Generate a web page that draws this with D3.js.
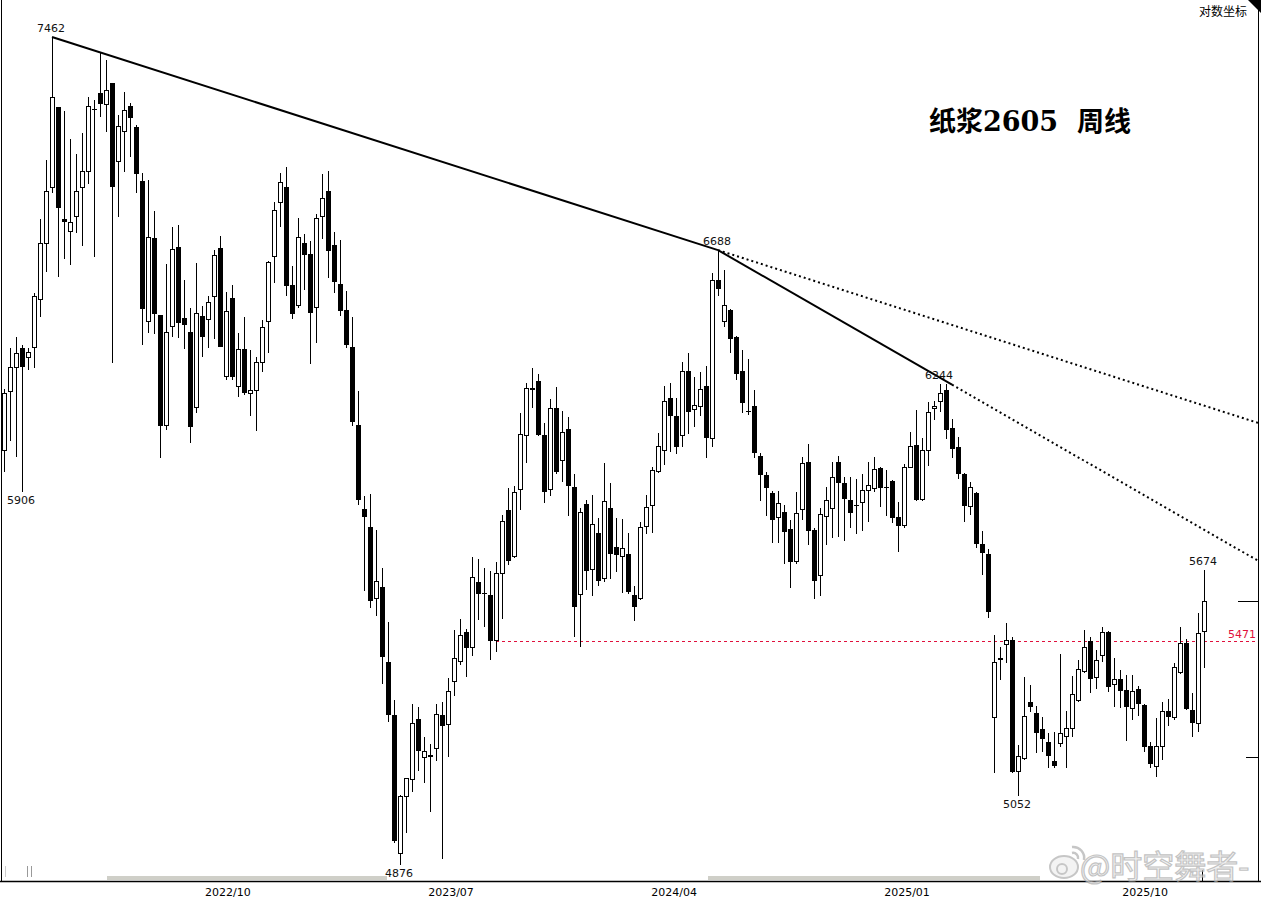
<!DOCTYPE html>
<html lang="zh">

<head>
    <meta charset="utf-8">
    <title>纸浆2605 周线</title>
    <script type="text/javascript" src="https://cdn.jsdelivr.net/npm/d3@7"></script>

    <style type="text/css">
        body {
            margin: 0;
            background-color: #fff;
        }
        text {
            font-family: "DejaVu Sans", sans-serif;
        }
    </style>
</head>

<body>
    <script type="text/javascript">

    var w = 1261
    var h = 899

    // weekly OHLC
    var opens = [6035,6218,6295,6360,6330,6360,6522,6709,6908,7198,
        6796,6751,6803,6908,6962,7191,7250,7209,7288,7001,
        7107,7202,7125,6930,6446,6730,6469,6110,6432,6698,
        6459,6412,6167,6466,6455,6529,6695,6266,6526,6234,
        6356,6214,6224,6314,6446,6667,6855,6908,6569,6499,
        6712,6674,6492,6806,6894,6705,6573,6486,6363,6113,
        5855,5801,5593,5625,5413,5267,4904,5050,5094,5256,
        5152,5155,5176,5267,5240,5357,5413,5496,5452,5640,
        5608,5602,5471,5663,5852,5713,5915,6079,6227,6253,
        6082,5915,6167,6004,6101,5921,5602,5870,5677,5783,
        5648,5858,5742,5713,5721,5602,5593,5801,5864,5970,
        6035,6198,6141,6079,6285,6161,6173,6237,6072,6586,
        6446,6486,6396,6285,6157,6173,6016,5958,5903,5828,
        5846,5795,5698,5852,5998,5792,5657,5831,5855,5998,
        5933,5882,5868,5873,5912,5918,5979,5920,5939,5831,
        5804,5982,6050,5882,6032,6164,6186,6224,6104,6044,
        5961,5861,5903,5751,5721,5259,5418,5460,5474,5115,
        5149,5302,5272,5229,5194,5144,5189,5208,5229,5307,
        5387,5471,5368,5429,5496,5351,5365,5335,5283,5337,
        5294,5184,5128,5181,5277,5261,5382,5465,5280,5245,
        5499]

    var highs = [6227,6360,6396,6369,6360,6542,6796,7005,7462,7198,
        7184,7081,7027,7103,7235,7224,7404,7374,7288,7169,
        7254,7213,7132,6958,6933,6824,6469,6640,6768,6775,
        6586,6492,6644,6499,6532,6688,6737,6546,6569,6409,
        6462,6353,6330,6452,6650,6855,6958,6980,6633,6799,
        6744,6719,6813,6955,6965,6751,6723,6549,6462,6221,
        5894,5900,5792,5680,5524,5307,5055,5097,5296,5288,
        5207,5189,5296,5302,5368,5502,5533,5505,5713,5707,
        5680,5672,5698,5837,5918,5924,6151,6246,6295,6275,
        6119,6195,6234,6157,6138,5961,5858,5882,5897,5828,
        5995,5933,5828,5825,5783,5628,5816,5897,5982,6088,
        6237,6246,6198,6314,6343,6266,6282,6301,6610,6688,
        6620,6490,6400,6353,6324,6224,6026,5967,5909,5909,
        5867,5822,5906,6013,6054,5798,5858,5921,5998,6016,
        5952,5952,5946,5961,5998,6013,5982,5973,5942,5876,
        5992,6091,6161,6072,6186,6189,6244,6243,6132,6076,
        5964,5937,5906,5789,5736,5488,5454,5521,5482,5186,
        5370,5348,5291,5261,5218,5221,5435,5277,5373,5418,
        5502,5482,5446,5510,5499,5424,5390,5376,5376,5346,
        5296,5194,5259,5302,5310,5410,5510,5477,5326,5550,
        5674]

    var lows = [5967,6063,6013,5906,6288,6295,6462,6613,6887,6596,
        6657,6637,6747,6702,6919,6664,7161,7107,6311,6803,
        6962,7016,6887,6369,6409,6405,6010,6097,6396,6393,
        6356,6057,6151,6330,6360,6389,6363,6256,6256,6202,
        6208,6141,6094,6282,6343,6576,6768,6532,6455,6492,
        6553,6308,6376,6726,6593,6542,6466,6360,6110,5867,
        5613,5564,5541,5351,5248,4932,4876,4957,5063,5118,
        5086,5011,5144,4891,5155,5318,5404,5370,5429,5530,
        5510,5418,5440,5533,5689,5710,5852,5995,6167,6079,
        5873,5894,5960,5937,5834,5482,5454,5616,5599,5628,
        5640,5648,5669,5608,5605,5527,5587,5780,5783,5964,
        5989,6029,6023,6044,6085,6107,6141,6010,6044,6532,
        6430,6343,6256,6151,6145,6010,5879,5834,5754,5754,
        5692,5622,5692,5822,5748,5590,5599,5748,5769,5771,
        5760,5798,5780,5789,5816,5906,5861,5834,5813,5727,
        5798,5978,5879,5878,5986,6129,6154,6069,6010,5946,
        5816,5837,5739,5660,5535,5112,5362,5410,5112,5052,
        5147,5275,5165,5168,5126,5126,5181,5126,5208,5302,
        5382,5326,5337,5413,5329,5288,5286,5197,5254,5264,
        5168,5126,5102,5147,5237,5254,5380,5280,5208,5221,
        5396]

    var closes = [6214,6295,6343,6298,6346,6529,6709,6894,7232,6834,
        6785,6782,6894,6962,7202,7187,7209,7258,6908,7125,
        7184,7158,6955,6489,6730,6472,6110,6412,6691,6442,
        6435,6107,6472,6396,6509,6671,6363,6479,6266,6356,
        6214,6224,6314,6428,6647,6827,6926,6566,6472,6733,
        6671,6476,6799,6869,6685,6579,6482,6369,6122,5882,
        5831,5584,5640,5427,5267,4937,5050,5097,5243,5170,
        5170,5158,5267,5237,5332,5421,5485,5452,5651,5604,
        5605,5471,5663,5816,5701,5906,6082,6230,6230,6082,
        5906,6164,5967,6091,5924,5567,5843,5672,5807,5643,
        5876,5721,5718,5736,5610,5567,5798,5858,5973,6047,
        6186,6141,6044,6282,6154,6176,6227,6072,6583,6556,
        6499,6389,6275,6182,6154,6026,5958,5918,5822,5870,
        5786,5698,5840,5992,5789,5643,5837,5879,5949,5933,
        5885,5843,5866,5912,5927,5976,5918,5917,5828,5804,
        5982,6047,5882,6032,6154,6173,6214,6098,6038,5961,
        5864,5921,5751,5724,5553,5410,5421,5471,5115,5155,
        5264,5288,5219,5202,5157,5131,5218,5229,5323,5390,
        5452,5365,5415,5496,5343,5365,5332,5288,5332,5296,
        5181,5136,5181,5275,5261,5398,5463,5283,5245,5491,
        5584]

    // x axis labels (candle index where the month starts)
    var tickIndex = [37.3, 74.5, 111.7, 150.5, 190.2]
    var tickLabels = ["2022/10", "2023/07", "2024/04", "2025/01", "2025/10"]

    // highs / lows that carry a number
    var peakIndex = [8, 119, 156, 200, 3, 66, 169]
    var peakSide = ["high", "high", "high", "high", "low", "low", "low"]

    // trend lines: two anchor points [index, price], dotted beyond the second one
    var trend1 = [[8, 7462], [119, 6688]]
    var trend2 = [[119, 6688], [158, 6241]]
    var lastIndex = 209

    var support = 5471
    var supportStart = 82
    var priceMarks = [5584, 5155]

    var candles = opens.map(function(o, i){
        return {i: i, o: o, h: highs[i], l: lows[i], c: closes[i]};
    });

    var x = d3.scaleLinear()
        .domain([0, opens.length - 1])
        .range([4, 1204]);

    var y = d3.scaleLog()
        .domain([4876, 7462])
        .range([865, 37]);

    var svg = d3.select("body")
        .append("svg")
        .attr("width", w)
        .attr("height", h);

    //Frame
    svg.append("line")
        .attr("x1", 1.5).attr("x2", 1.5)
        .attr("y1", 0).attr("y2", 881)
        .attr("stroke", "#000");

    svg.append("line")
        .attr("x1", 1258.5).attr("x2", 1258.5)
        .attr("y1", 10).attr("y2", 881)
        .attr("stroke", "#000");

    svg.append("line")
        .attr("x1", 0).attr("x2", w)
        .attr("y1", 881.5).attr("y2", 881.5)
        .attr("stroke", "#000")
        .attr("stroke-width", 1.5);

    svg.append("path")
        .attr("d", "M1248,0 L1261,0 L1261,13 Z")
        .attr("fill", "#000");

    svg.append("text")
        .attr("x", 1247)
        .attr("y", 16)
        .attr("text-anchor", "end")
        .style("font-family", "'Noto Sans CJK SC', sans-serif")
        .style("font-size", "12px")
        .text("对数坐标");

    //grey scroll bars near the axis
    svg.selectAll("rect.scroll")
        .data([[107, 387], [708, 1040]])
        .enter()
        .append("rect")
        .attr("class", "scroll")
        .attr("x", function(d){ return d[0]; })
        .attr("y", 876)
        .attr("width", function(d){ return d[1] - d[0]; })
        .attr("height", 4)
        .attr("fill", "#cfcfc8");

    //little grey marks bottom left
    svg.selectAll("line.gmark")
        .data([5, 27, 31])
        .enter()
        .append("line")
        .attr("class", "gmark")
        .attr("x1", function(d){ return d + 0.5; })
        .attr("x2", function(d){ return d + 0.5; })
        .attr("y1", 866)
        .attr("y2", 877)
        .attr("stroke", function(d, i){ return i == 0 ? "#ccc" : "#999"; });

    //tick under last candle
    svg.append("line")
        .attr("x1", x(opens.length - 1) - 1.5)
        .attr("x2", x(opens.length - 1) - 1.5)
        .attr("y1", 870)
        .attr("y2", 881)
        .attr("stroke", "#000");

    //x axis labels
    svg.selectAll("text.tick")
        .data(tickIndex)
        .enter()
        .append("text")
        .attr("class", "tick")
        .attr("x", function(d){ return x(d); })
        .attr("y", 896)
        .attr("text-anchor", "middle")
        .style("font-size", "11px")
        .text(function(d, i){ return tickLabels[i]; });

    //Support line
    svg.append("line")
        .attr("x1", x(supportStart))
        .attr("x2", x(lastIndex))
        .attr("y1", Math.round(y(support)) + 0.5)
        .attr("y2", Math.round(y(support)) + 0.5)
        .attr("stroke", "#e0103c")
        .attr("stroke-dasharray", "3,3");

    svg.append("text")
        .attr("x", 1256)
        .attr("y", y(support) - 3)
        .attr("text-anchor", "end")
        .attr("fill", "#e0103c")
        .style("font-size", "11px")
        .text(support);

    //current price marks at the right edge
    svg.selectAll("line.mark")
        .data(priceMarks)
        .enter()
        .append("line")
        .attr("class", "mark")
        .attr("x1", function(d, i){ return i == 0 ? 1238 : 1246; })
        .attr("x2", 1258)
        .attr("y1", function(d){ return Math.round(y(d)) + 0.5; })
        .attr("y2", function(d){ return Math.round(y(d)) + 0.5; })
        .attr("stroke", "#000");

    //Wicks
    svg.selectAll("line.wick")
        .data(candles)
        .enter()
        .append("line")
        .attr("class", "wick")
        .attr("x1", function(d){ return x(d.i) + 0.5; })
        .attr("x2", function(d){ return x(d.i) + 0.5; })
        .attr("y1", function(d){ return y(d.h); })
        .attr("y2", function(d){ return y(d.l); })
        .attr("stroke", "#000")
        .attr("shape-rendering", "crispEdges");

    //Bodies
    svg.selectAll("rect.body")
        .data(candles)
        .enter()
        .append("rect")
        .attr("class", "body")
        .attr("x", function(d){ return d.c >= d.o ? x(d.i) - 1.5 : x(d.i) - 2; })
        .attr("y", function(d){ return y(Math.max(d.o, d.c)); })
        .attr("width", function(d){ return d.c >= d.o ? 4 : 5; })
        .attr("height", function(d){
            return Math.max(1, y(Math.min(d.o, d.c)) - y(Math.max(d.o, d.c)));
        })
        .attr("fill", function(d){ return d.c >= d.o ? "#fff" : "#000"; })
        .attr("stroke", "#000")
        .attr("stroke-width", function(d){ return d.c >= d.o ? 1 : 0; })
        .attr("shape-rendering", "crispEdges");

    //Trend lines
    var drawTrend = function(t){
        var x1 = x(t[0][0]), y1 = y(t[0][1]);
        var x2 = x(t[1][0]), y2 = y(t[1][1]);
        var xe = x(lastIndex);
        var ye = y1 + (xe - x1) * (y2 - y1) / (x2 - x1);

        svg.append("line")
            .attr("x1", x1).attr("y1", y1)
            .attr("x2", x2).attr("y2", y2)
            .attr("stroke", "#000")
            .attr("stroke-width", 2);

        svg.append("line")
            .attr("x1", x2).attr("y1", y2)
            .attr("x2", xe).attr("y2", ye)
            .attr("stroke", "#000")
            .attr("stroke-width", 2)
            .attr("stroke-dasharray", "2,3");
    }
    drawTrend(trend1);
    drawTrend(trend2);

    //High and low labels
    svg.selectAll("text.peak")
        .data(peakIndex)
        .enter()
        .append("text")
        .attr("class", "peak")
        .attr("x", function(d){ return x(d) - 1; })
        .attr("y", function(d, i){
            return peakSide[i] == "high" ? y(highs[d]) - 5 : y(lows[d]) + 12;
        })
        .attr("text-anchor", "middle")
        .attr("fill", "#111")
        .style("font-size", "11px")
        .text(function(d, i){ return peakSide[i] == "high" ? highs[d] : lows[d]; });

    //Title
    svg.append("text")
        .attr("x", 929)
        .attr("y", 131)
        .style("font-family", "'DejaVu Serif', 'Noto Sans CJK SC', serif")
        .style("font-size", "27px")
        .style("font-weight", "bold")
        .style("white-space", "pre")
        .text("纸浆2605  周线");

    //Watermark (weibo style)
    var wm = svg.append("g")
        .attr("opacity", 0.75);

    wm.append("ellipse")
        .attr("cx", 1064).attr("cy", 867)
        .attr("rx", 14).attr("ry", 11)
        .attr("fill", "#f0f0f0")
        .attr("stroke", "#b4b4b4")
        .attr("stroke-width", 2);

    wm.append("circle")
        .attr("cx", 1062).attr("cy", 869)
        .attr("r", 5)
        .attr("fill", "none")
        .attr("stroke", "#b4b4b4")
        .attr("stroke-width", 2);

    wm.append("path")
        .attr("d", "M1072,847 A11,11 0 0 1 1084,860 M1072,853 A5,5 0 0 1 1078,859")
        .attr("fill", "none")
        .attr("stroke", "#b4b4b4")
        .attr("stroke-width", 2.5);

    wm.append("text")
        .attr("x", 1080)
        .attr("y", 878)
        .attr("fill", "#eeeeee")
        .attr("stroke", "#b0b0b0")
        .attr("stroke-width", 1.2)
        .style("font-family", "'Noto Sans CJK SC', sans-serif")
        .style("font-size", "32px")
        .text("@时空舞者-");

    </script>
</body>

</html>
